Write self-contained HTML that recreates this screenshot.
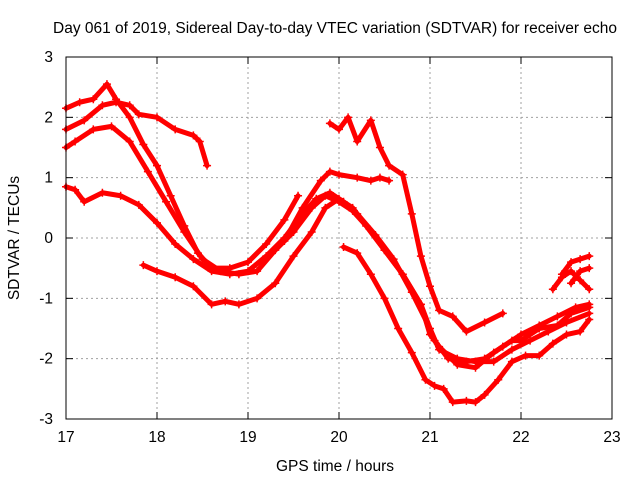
<!DOCTYPE html>
<html><head><meta charset="utf-8"><style>
body{margin:0;background:#fff;}
svg text{font-family:"Liberation Sans",sans-serif;font-size:15.5px;fill:#000;}
</style></head><body>
<svg id="chart" width="640" height="480">
<text x="335" y="33" text-anchor="middle">Day 061 of 2019, Sidereal Day-to-day VTEC variation (SDTVAR) for receiver echo</text>
<text x="335" y="471" text-anchor="middle">GPS time / hours</text>
<text transform="translate(19,238) rotate(-90)" text-anchor="middle">SDTVAR / TECUs</text>
<g id="grid"></g><g id="series"></g><g id="axes"></g>
</svg>
<script>
const xTicks=[17,18,19,20,21,22,23];
const yTicks=[-3,-2,-1,0,1,2,3];
const s1=[[17.0,1.8],[17.2,1.95],[17.4,2.2],[17.55,2.25],[17.7,2.2],[17.8,2.05],[18.0,2.0],[18.2,1.8],[18.4,1.7],[18.47,1.6],[18.55,1.2]];
const s2=[[17.0,2.15],[17.15,2.25],[17.3,2.3],[17.45,2.55],[17.55,2.3],[17.7,2.0],[17.85,1.55],[18.0,1.2],[18.15,0.7],[18.3,0.2],[18.45,-0.25],[18.6,-0.5],[18.8,-0.5],[19.0,-0.4],[19.2,-0.1],[19.4,0.3],[19.55,0.7]];
const s3=[[17.0,1.5],[17.1,1.6],[17.3,1.8],[17.5,1.85],[17.7,1.6],[17.9,1.1],[18.1,0.6],[18.3,0.1],[18.5,-0.35],[18.7,-0.55],[18.9,-0.6],[19.1,-0.55],[19.3,-0.2],[19.5,0.1],[19.7,0.5],[19.85,0.7],[20.0,0.6],[20.15,0.45],[20.3,0.2],[20.5,-0.2],[20.7,-0.6],[20.9,-1.1],[21.05,-1.7],[21.2,-2.0],[21.4,-2.05],[21.6,-2.0],[21.8,-1.8],[22.0,-1.6],[22.2,-1.45],[22.4,-1.3],[22.6,-1.15],[22.75,-1.1]];
const s4=[[17.0,0.85],[17.1,0.8],[17.2,0.6],[17.4,0.75],[17.6,0.7],[17.8,0.55],[18.0,0.25],[18.2,-0.1],[18.4,-0.35],[18.6,-0.55],[18.8,-0.6],[19.0,-0.55],[19.2,-0.3],[19.4,0.0],[19.6,0.4],[19.75,0.65],[19.9,0.75],[20.05,0.6],[20.2,0.4],[20.4,0.05],[20.6,-0.35],[20.8,-0.9],[21.0,-1.5],[21.1,-1.85],[21.3,-2.0],[21.5,-2.05],[21.7,-2.05],[21.9,-1.85],[22.1,-1.7],[22.3,-1.55],[22.5,-1.4],[22.75,-1.25]];
const s5=[[17.85,-0.45],[18.0,-0.55],[18.2,-0.65],[18.4,-0.8],[18.6,-1.1],[18.75,-1.05],[18.9,-1.1],[19.1,-1.0],[19.3,-0.75],[19.5,-0.3],[19.7,0.1],[19.85,0.5],[20.0,0.65],[20.15,0.5],[20.3,0.2],[20.5,-0.2],[20.7,-0.6],[20.9,-1.1],[21.0,-1.6],[21.1,-1.8],[21.3,-2.1],[21.5,-2.15],[21.7,-1.9],[21.9,-1.7],[22.0,-1.7],[22.2,-1.5],[22.4,-1.45],[22.55,-1.25],[22.75,-1.15]];
const s6=[[19.4,-0.05],[19.6,0.5],[19.8,0.95],[19.9,1.1],[20.0,1.05],[20.2,1.0],[20.35,0.95],[20.45,1.0],[20.55,0.95]];
const s7=[[20.05,-0.15],[20.2,-0.25],[20.35,-0.6],[20.5,-1.0],[20.65,-1.5],[20.8,-1.9],[20.95,-2.35],[21.05,-2.45],[21.15,-2.5],[21.25,-2.72],[21.4,-2.7],[21.5,-2.72],[21.6,-2.6],[21.75,-2.35],[21.9,-2.05],[22.05,-1.95],[22.2,-1.95],[22.35,-1.75],[22.5,-1.6],[22.65,-1.55],[22.75,-1.35]];
const s8=[[19.9,1.9],[20.0,1.8],[20.1,2.0],[20.2,1.6],[20.35,1.95],[20.45,1.5],[20.55,1.2],[20.7,1.05],[20.8,0.4],[20.9,-0.3],[21.0,-0.8],[21.1,-1.2],[21.25,-1.3],[21.4,-1.55],[21.6,-1.4],[21.8,-1.25]];
const s9=[[22.35,-0.85],[22.45,-0.65],[22.55,-0.55],[22.65,-0.7],[22.75,-0.85]];
const s10=[[22.45,-0.6],[22.55,-0.4],[22.65,-0.35],[22.75,-0.3]];
const s11=[[22.55,-0.75],[22.65,-0.55],[22.75,-0.5]];
const seriesList=[s1,s2,s3,s4,s5,s6,s7,s8,s9,s10,s11];
const X0=66,X1=612,Y0=419,Y1=57;
const xs=v=>X0+(v-17)/6*(X1-X0);
const ys=v=>Y0-(v+3)/6*(Y0-Y1);
const NS="http://www.w3.org/2000/svg";
function mk(t,a,p){const e=document.createElementNS(NS,t);for(const k in a)e.setAttribute(k,a[k]);p.appendChild(e);return e;}
const grid=document.getElementById('grid'),axes=document.getElementById('axes'),ser=document.getElementById('series');
xTicks.forEach(t=>{const x=xs(t);
 if(t>17&&t<23){const g=mk('line',{x1:x,x2:x,y1:Y0,y2:Y1,stroke:'#a0a0a0','stroke-dasharray':'2,3'},grid);
 
 }
 mk('line',{x1:x,x2:x,y1:Y0,y2:Y0-7,stroke:'#000'},axes);mk('line',{x1:x,x2:x,y1:Y1,y2:Y1+7,stroke:'#000'},axes);
 const l=mk('text',{x:x,y:442,'text-anchor':'middle'},axes);l.textContent=t;
 
 });
yTicks.forEach(t=>{const y=ys(t);
 if(t>-3&&t<3){const g=mk('line',{x1:X0,x2:X1,y1:y,y2:y,stroke:'#a0a0a0','stroke-dasharray':'2,3'},grid);
 
 }
 mk('line',{x1:X0,x2:X0+7,y1:y,y2:y,stroke:'#000'},axes);mk('line',{x1:X1,x2:X1-7,y1:y,y2:y,stroke:'#000'},axes);
 const l=mk('text',{x:53,y:y+5,'text-anchor':'end'},axes);l.textContent=t;
 
 });
const fr=mk('rect',{x:X0,y:Y1,width:X1-X0,height:Y0-Y1,fill:'none',stroke:'#000'},axes);


seriesList.forEach((s,i)=>{
 const g=mk('g',{},ser);
 
 
 mk('polyline',{points:s.map(p=>xs(p[0])+','+ys(p[1])).join(' '),fill:'none',stroke:'#f00','stroke-width':5,'stroke-linejoin':'round','stroke-linecap':'round'},g);
 s.forEach(p=>{const x=xs(p[0]),y=ys(p[1]);
  mk('path',{d:`M${x-4},${y}H${x+4}M${x},${y-4}V${y+4}`,stroke:'#f00','stroke-width':1.5},g);});
});
</script>
</body></html>
